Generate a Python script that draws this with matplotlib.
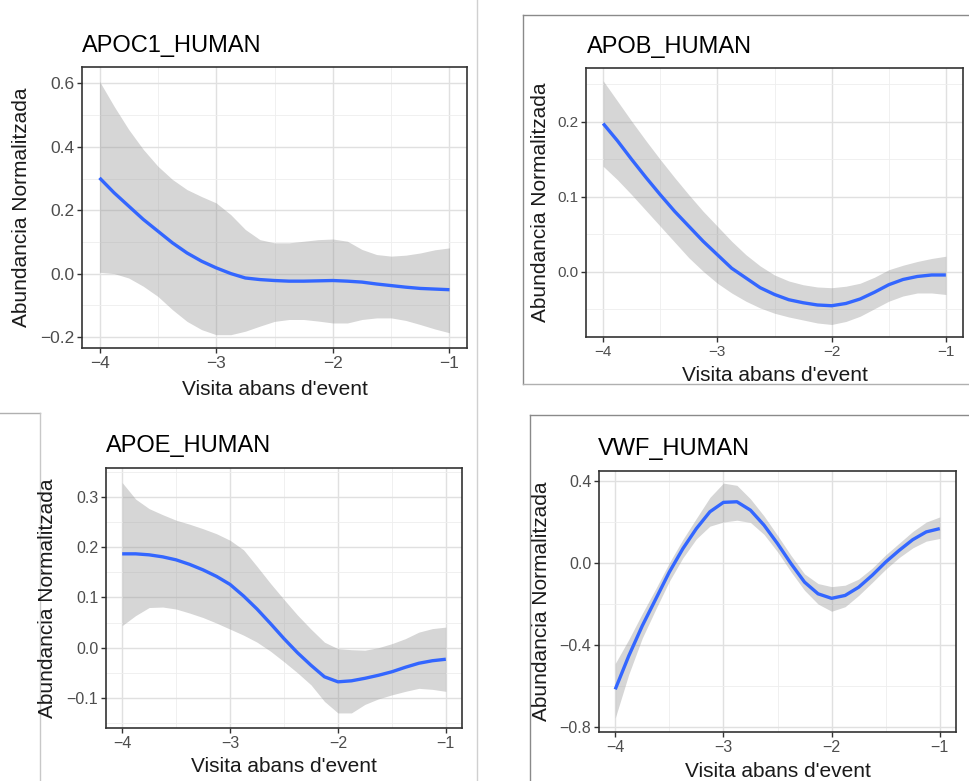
import numpy as np
import matplotlib
matplotlib.use("Agg")
import matplotlib.pyplot as plt
from matplotlib.lines import Line2D

plt.rcParams['font.family'] = ['Liberation Sans', 'DejaVu Sans']

# ---------------- data ----------------
x_vals = [-4.0, -3.875, -3.75, -3.625, -3.5, -3.375, -3.25, -3.125, -3.0, -2.875, -2.75, -2.625,
          -2.5, -2.375, -2.25, -2.125, -2.0, -1.875, -1.75, -1.625, -1.5, -1.375, -1.25, -1.125, -1.0]

apoc1_fit = [0.302, 0.255, 0.213, 0.171, 0.134, 0.097, 0.065, 0.039, 0.018, 0.000, -0.014, -0.019,
             -0.022, -0.024, -0.024, -0.023, -0.022, -0.024, -0.027, -0.033, -0.038, -0.043, -0.047, -0.049, -0.051]
apoc1_hi = [0.607, 0.528, 0.455, 0.392, 0.339, 0.297, 0.265, 0.243, 0.223, 0.186, 0.139, 0.107,
            0.097, 0.097, 0.102, 0.107, 0.109, 0.102, 0.076, 0.060, 0.055, 0.058, 0.065, 0.075, 0.081]
apoc1_lo = [0.004, 0.000, -0.014, -0.040, -0.072, -0.114, -0.151, -0.177, -0.193, -0.193, -0.182, -0.166,
            -0.151, -0.145, -0.145, -0.150, -0.156, -0.156, -0.145, -0.140, -0.140, -0.148, -0.161, -0.175, -0.187]

apob_fit = [0.198, 0.175, 0.150, 0.126, 0.103, 0.081, 0.061, 0.041, 0.023, 0.005, -0.008, -0.021,
            -0.030, -0.037, -0.041, -0.044, -0.045, -0.042, -0.036, -0.027, -0.017, -0.010, -0.006, -0.004, -0.004]
apob_hi = [0.255, 0.228, 0.201, 0.175, 0.150, 0.126, 0.103, 0.081, 0.061, 0.041, 0.023, 0.008,
           -0.004, -0.012, -0.017, -0.020, -0.021, -0.019, -0.015, -0.007, 0.003, 0.009, 0.014, 0.018, 0.021]
apob_lo = [0.141, 0.123, 0.103, 0.082, 0.061, 0.040, 0.019, 0.001, -0.015, -0.028, -0.039, -0.048,
           -0.055, -0.060, -0.064, -0.068, -0.070, -0.066, -0.059, -0.049, -0.039, -0.032, -0.028, -0.028, -0.030]

apoe_fit = [0.187, 0.187, 0.185, 0.181, 0.175, 0.166, 0.155, 0.142, 0.126, 0.103, 0.077, 0.048,
            0.018, -0.010, -0.035, -0.058, -0.068, -0.066, -0.061, -0.055, -0.048, -0.039, -0.031, -0.026, -0.023]
apoe_hi = [0.329, 0.296, 0.277, 0.265, 0.254, 0.246, 0.237, 0.227, 0.214, 0.195, 0.162, 0.128,
           0.096, 0.065, 0.037, 0.011, -0.002, -0.004, -0.005, 0.000, 0.008, 0.018, 0.031, 0.038, 0.041]
apoe_lo = [0.044, 0.064, 0.080, 0.081, 0.077, 0.069, 0.060, 0.049, 0.037, 0.025, 0.011, -0.007,
           -0.028, -0.050, -0.074, -0.107, -0.130, -0.130, -0.113, -0.102, -0.094, -0.087, -0.081, -0.083, -0.087]

vwf_fit = [-0.616, -0.453, -0.306, -0.175, -0.044, 0.070, 0.168, 0.250, 0.296, 0.299, 0.258, 0.185,
           0.095, -0.003, -0.093, -0.150, -0.172, -0.158, -0.118, -0.060, 0.005, 0.062, 0.114, 0.152, 0.168]
vwf_hi = [-0.490, -0.373, -0.246, -0.125, 0.001, 0.115, 0.218, 0.320, 0.390, 0.379, 0.313, 0.230,
          0.135, 0.037, -0.053, -0.100, -0.115, -0.108, -0.078, -0.025, 0.040, 0.097, 0.154, 0.200, 0.225]
vwf_lo = [-0.756, -0.543, -0.366, -0.225, -0.089, 0.025, 0.118, 0.180, 0.200, 0.209, 0.198, 0.140,
          0.055, -0.043, -0.133, -0.200, -0.235, -0.213, -0.158, -0.095, -0.030, 0.027, 0.074, 0.107, 0.120]

titles = ["APOC1_HUMAN", "APOB_HUMAN", "APOE_HUMAN", "VWF_HUMAN"]
xlabel = "Visita abans d'event"
ylabel = "Abundancia Normalitzada"
x_ticks = [-4, -3, -2, -1]
x_ticklabels = ["\u22124", "\u22123", "\u22122", "\u22121"]

panels = [
    dict(fit=apoc1_fit, hi=apoc1_hi, lo=apoc1_lo, title=titles[0],
         yticks=[-0.2, 0.0, 0.2, 0.4, 0.6], yminor=[-0.1, 0.1, 0.3, 0.5],
         ylim=(-0.235, 0.652), rect=(82, 67, 467, 348),
         title_pos=(82, 52), xlab_pos=(274.5, 395), ylab_pos=(22, 207.5), tfs=12.5),
    dict(fit=apob_fit, hi=apob_hi, lo=apob_lo, title=titles[1],
         yticks=[0.0, 0.1, 0.2], yminor=[-0.05, 0.05, 0.15, 0.25],
         ylim=(-0.0867, 0.272), rect=(586, 68, 963, 337),
         title_pos=(587, 53), xlab_pos=(774.5, 381), ylab_pos=(540, 202.5), tfs=11),
    dict(fit=apoe_fit, hi=apoe_hi, lo=apoe_lo, title=titles[2],
         yticks=[-0.1, 0.0, 0.1, 0.2, 0.3], yminor=[-0.15, -0.05, 0.05, 0.15, 0.25, 0.35],
         ylim=(-0.16, 0.358), rect=(106, 468, 462, 728),
         title_pos=(106, 452), xlab_pos=(284, 772), ylab_pos=(48, 598), tfs=11.5),
    dict(fit=vwf_fit, hi=vwf_hi, lo=vwf_lo, title=titles[3],
         yticks=[-0.8, -0.4, 0.0, 0.4], yminor=[-0.6, -0.2, 0.2],
         ylim=(-0.824, 0.449), rect=(599, 471, 956, 732),
         title_pos=(598, 455), xlab_pos=(777.5, 777), ylab_pos=(541.5, 601.5), tfs=11.5),
]

W, H = 970, 781
fig = plt.figure(figsize=(W / 100, H / 100), dpi=100)
fig.patch.set_facecolor('white')


def fx(px):
    return px / W


def fy(py):
    return 1 - py / H


for p in panels:
    l, t, r, b = p['rect']
    ax = fig.add_axes([fx(l), fy(b), (r - l) / W, (b - t) / H])
    ax.fill_between(x_vals, p['lo'], p['hi'], color='#999999', alpha=0.4, linewidth=0, zorder=2)
    ax.plot(x_vals, p['fit'], color='#3366FF', linewidth=2.4, zorder=3,
            solid_capstyle='butt', solid_joinstyle='round')
    ax.set_xlim(-4.15, -0.85)
    ax.set_ylim(*p['ylim'])
    ax.set_xticks(x_ticks)
    ax.set_xticklabels(x_ticklabels)
    ax.set_yticks(p['yticks'])
    ax.set_yticklabels([f"{v:.1f}".replace('-', '\u2212') for v in p['yticks']])
    ax.set_xticks([-3.5, -2.5, -1.5], minor=True)
    ax.set_yticks(p['yminor'], minor=True)
    ax.grid(which='major', color='#E0E0E0', linewidth=1.0, zorder=0)
    ax.grid(which='minor', color='#EEEEEE', linewidth=0.6, zorder=0)
    ax.set_axisbelow(True)
    ax.tick_params(which='major', length=3.5, width=1.0, color='#333333', labelcolor='#4D4D4D',
                   labelsize=p['tfs'], pad=2)
    ax.tick_params(which='minor', length=0)
    for s in ax.spines.values():
        s.set_color('#333333')
        s.set_linewidth(1.2)
    fig.text(fx(p['title_pos'][0]), fy(p['title_pos'][1]), p['title'], fontsize=17,
             ha='left', va='baseline', color='black')
    fig.text(fx(p['xlab_pos'][0]), fy(p['xlab_pos'][1]), xlabel, fontsize=15,
             ha='center', va='baseline', color='#1A1A1A')
    fig.text(fx(p['ylab_pos'][0]), fy(p['ylab_pos'][1]), ylabel, fontsize=15,
             ha='center', va='center', rotation=90, color='#1A1A1A')

# screenshot frame lines
frame_lines = [
    ((477, 0), (477, 781), '#D0D0D0'),
    ((523, 15), (970, 15), '#8A8A8A'),
    ((523, 15), (523, 384), '#8A8A8A'),
    ((523, 384), (970, 384), '#B0B0B0'),
    ((0, 413), (40, 413), '#B0B0B0'),
    ((40, 413), (40, 781), '#C8C8C8'),
    ((530, 415), (970, 415), '#8A8A8A'),
    ((530, 415), (530, 781), '#8A8A8A'),
]
for (x0, y0), (x1, y1), c in frame_lines:
    fig.add_artist(Line2D([fx(x0), fx(x1)], [fy(y0), fy(y1)], color=c, linewidth=1.0,
                          transform=fig.transFigure))

fig.savefig('out.png', dpi=100)
